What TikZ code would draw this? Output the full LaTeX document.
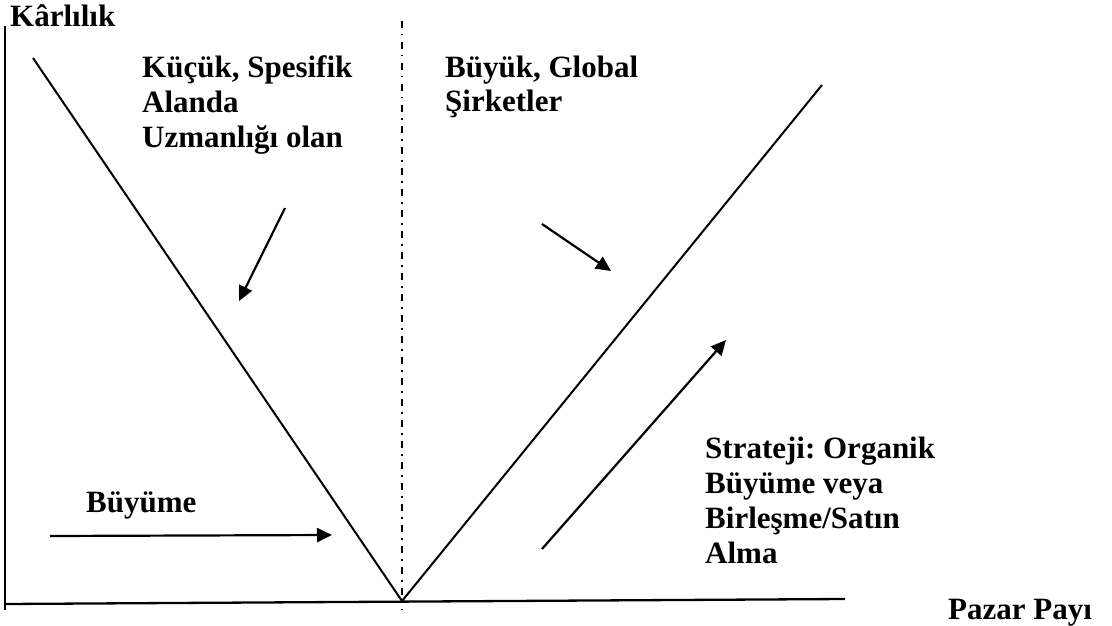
\documentclass[tikz,border=0pt]{standalone}
\usepackage{fontspec}
\setmainfont{Liberation Serif}
\usetikzlibrary{arrows.meta}
\begin{document}
\frenchspacing
\begin{tikzpicture}[x=1pt,y=-1pt,
  lbl/.style={inner sep=0pt, anchor=base west, align=left,
              font=\fontsize{31}{35}\selectfont\bfseries},
  axisline/.style={line width=2.3pt},
  vline/.style={line width=2pt},
  midline/.style={line width=2pt, dash pattern=on 7pt off 6pt on 1.5pt off 6.5pt},
  arr/.style={line width=2.2pt, -{Triangle[length=15pt,width=14pt]}}]
\useasboundingbox (0,0) rectangle (1112,626);

% axes
\coordinate (ytop) at (5,26);
\coordinate (ybot) at (5,610);
\coordinate (xl) at (5,604);
\coordinate (xr) at (845,599);
\draw[axisline] (ytop) -- (ybot);
\draw[axisline] (xl) -- (xr);

% the V curve and its middle line
\coordinate (v) at (402,601);
\coordinate (ltop) at (33,58);
\coordinate (rtop) at (822,85);
\coordinate (dtop) at (402,21);
\coordinate (dbot) at (402,610);
\draw[midline] (dtop) -- (dbot);
\draw[vline] (ltop) -- (v) -- (rtop);

% arrows
\coordinate (a1s) at (285,208); \coordinate (a1e) at (239,301);
\coordinate (a2s) at (542,224); \coordinate (a2e) at (611,271);
\coordinate (a3s) at (50,536);  \coordinate (a3e) at (332,535);
\coordinate (a4s) at (542,549); \coordinate (a4e) at (726,340);
\draw[arr] (a1s) -- (a1e);
\draw[arr] (a2s) -- (a2e);
\draw[arr] (a3s) -- (a3e);
\draw[arr] (a4s) -- (a4e);

% labels (multi-line labels sit on the baseline of their last line)
\node[lbl] (yl) at (10,27) {Kârlılık};
\node[lbl] (xlab) at (948,619) {Pazar Payı};
\node[lbl] (small) at (142,147) {Küçük, Spesifik\\Alanda\\Uzmanlığı olan};
\node[lbl] (big) at (445,112) {Büyük, Global\\Şirketler};
\node[lbl] (strat) at (705,563) {Strateji: Organik\\Büyüme veya\\Birleşme/Satın\\Alma};
\node[lbl] (grow) at (86,512) {Büyüme};
\end{tikzpicture}
\end{document}
